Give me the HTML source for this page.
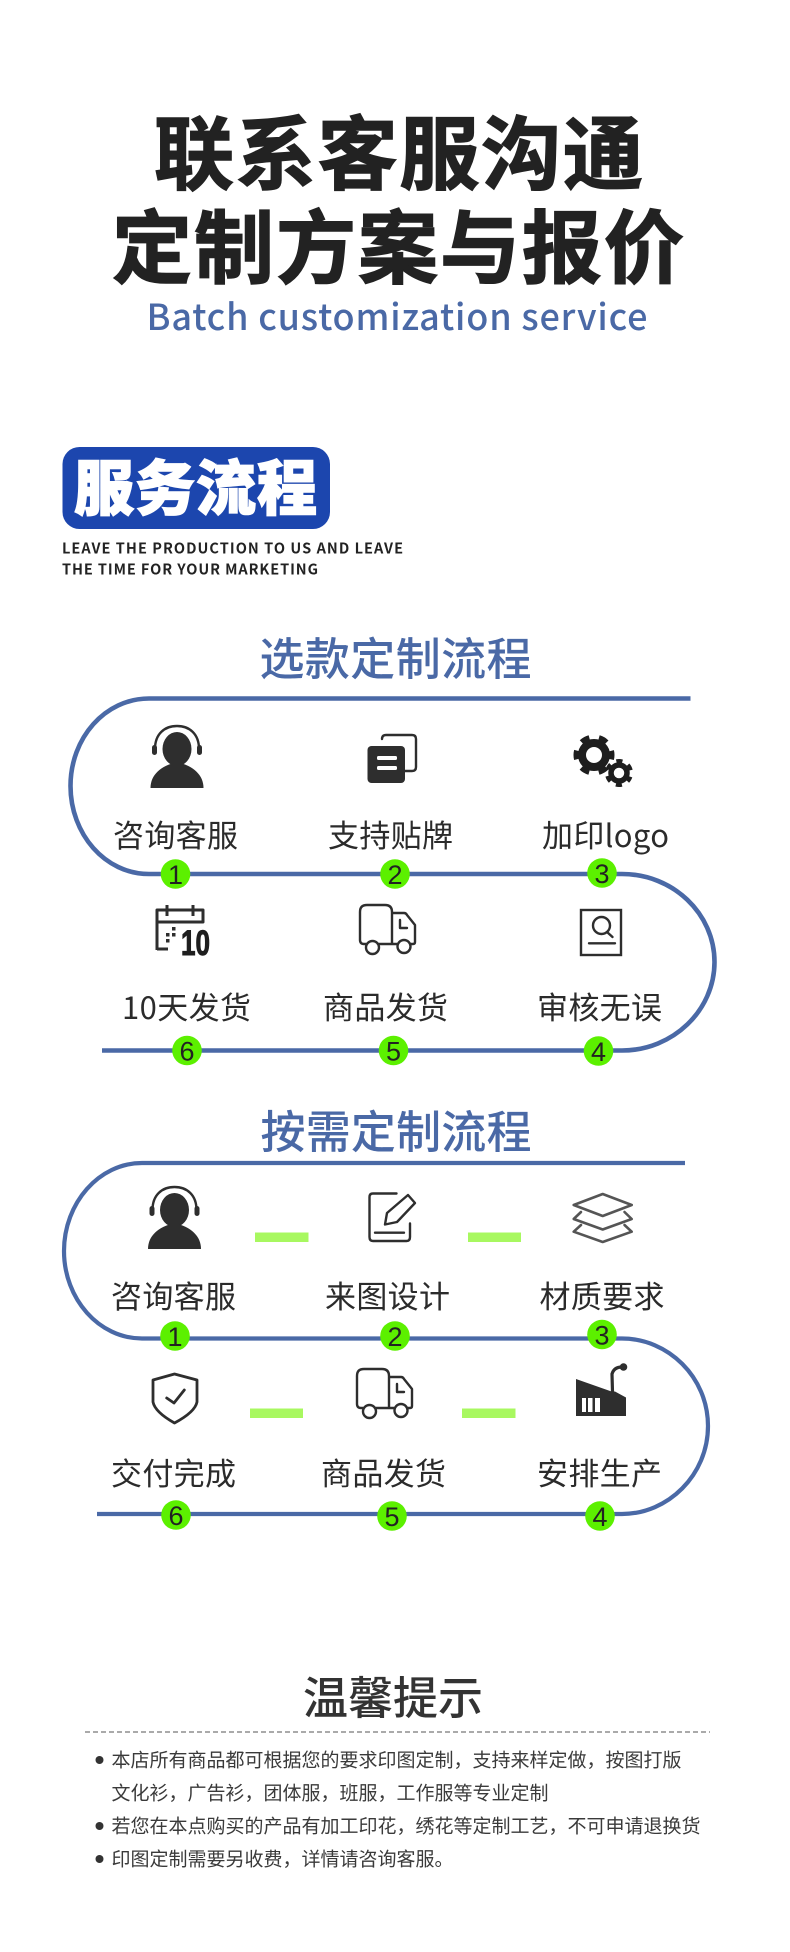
<!DOCTYPE html>
<html lang="zh"><head><meta charset="utf-8"><title>服务流程</title>
<style>
html,body{margin:0;padding:0;background:#fff;width:790px;height:1952px;overflow:hidden}
svg{display:block}
text{font-family:"Noto Sans CJK SC","Liberation Sans",sans-serif}
.t{font-weight:700;font-size:80px;fill:#222;stroke:#222;stroke-width:1.4}
.h{font-weight:500;font-size:45px;fill:#4a69a6}
.l{font-size:31px;fill:#2b2b2b;font-weight:400}
.n{font-family:"Liberation Sans",sans-serif;font-size:27px;fill:#222;text-anchor:middle}
.c{fill:#5cf000}
.p{fill:none;stroke:#4a69a6;stroke-linecap:butt}
.tip{font-size:19px;fill:#3a3a3a}
.k{fill:#2e2e2e}
.o{fill:none;stroke:#2e2e2e;stroke-width:2.4;stroke-linejoin:round;stroke-linecap:round}
.y{fill:none;stroke:#555;stroke-width:2.6;stroke-linejoin:round;stroke-linecap:round}
.b{fill:#a8f860}
</style></head><body>
<svg xmlns="http://www.w3.org/2000/svg" width="790" height="1952" viewBox="0 0 790 1952">
<defs>
<g id="person">
<path d="M4.5 24C4.5 9 14 1 26.5 1S48.5 9 48.5 24" fill="none" stroke="#2e2e2e" stroke-width="2.4"/>
<rect x="1.5" y="20" width="5" height="10" rx="2.5" class="k"/><rect x="46.5" y="20" width="5" height="10" rx="2.5" class="k"/>
<ellipse cx="26.500" cy="24" rx="14.500" ry="17" class="k"/>
<path d="M0 63C0 50 10 41 26.500 37C43 41 53 50 53 63Z" class="k"/>
</g>
<g id="truck">
<path class="o" d="M6 39H4Q0 39 0 35V7Q0 0 7 0H25Q32 0 32 7V39M19 39H37M32 8H44Q46 8 47 10L55 20V37Q55 39 53 39H50"/>
<path class="o" d="M40 15V23H47"/>
<circle class="o" cx="12.500" cy="42.500" r="6.500"/><circle class="o" cx="44" cy="41.500" r="6.500"/>
</g>
</defs>

<!-- header -->
<text class="t" x="154" y="183" textLength="489">联系客服沟通</text>
<text class="t" x="112" y="277" textLength="572">定制方案与报价</text>
<text x="146.500" y="330" font-size="36" font-weight="500" fill="#4a69a6" textLength="501">Batch customization service</text>

<rect x="62.500" y="447" width="267.500" height="82" rx="17" fill="#1c46ae"/>
<text x="74" y="510" font-size="60" font-weight="900" fill="#fff" stroke="#fff" stroke-width="1.400" textLength="243">服务流程</text>
<text x="62" y="553.500" font-size="14.500" font-weight="700" fill="#222" textLength="341">LEAVE THE PRODUCTION TO US AND LEAVE</text>
<text x="62" y="574.500" font-size="14.500" font-weight="700" fill="#222" textLength="256">THE TIME FOR YOUR MARKETING</text>

<!-- section 1 -->
<text class="h" x="259.500" y="675" textLength="272">选款定制流程</text>
<path class="p" stroke-width="4.600" d="M690.500 698.500H149C105 698.500 70.500 738 70.500 786S105 874 149 874H622C673 874 714.500 913.600 714.500 962S673 1050.500 622 1050.500H102"/>
<text class="l" x="113" y="847" textLength="125">咨询客服</text>
<text class="l" x="328" y="847" textLength="125">支持贴牌</text>
<text class="l" x="542" y="847" textLength="127">加印logo</text>
<text class="l" x="122" y="1019" textLength="129">10天发货</text>
<text class="l" x="323" y="1019" textLength="125">商品发货</text>
<text class="l" x="537" y="1019" textLength="125">审核无误</text>

<use href="#person" x="150.500" y="725"/>
<!-- doc copy -->
<path class="o" d="M382 739Q382 735 386 735H412Q416 735 416 739V767Q416 771 412 771H405"/>
<rect x="367.500" y="746" width="37.500" height="37" rx="4" class="k"/>
<rect x="377" y="756" width="20" height="4" rx="1.500" fill="#fff"/><rect x="377" y="766" width="20" height="4" rx="1.500" fill="#fff"/>
<!-- gears -->
<circle cx="594" cy="755" r="12" fill="none" stroke="#1e1e1e" stroke-width="8"/>
<circle cx="594" cy="755" r="18" fill="none" stroke="#1e1e1e" stroke-width="5" stroke-dasharray="9 9.850" stroke-dashoffset="4.500"/>
<circle cx="619" cy="773" r="8" fill="none" stroke="#1e1e1e" stroke-width="5.500"/>
<circle cx="619" cy="773" r="12" fill="none" stroke="#1e1e1e" stroke-width="4" stroke-dasharray="6 6.570" stroke-dashoffset="3" transform="rotate(30 619 773)"/>
<!-- calendar -->
<path class="o" style="stroke-width:3;stroke-linecap:butt" d="M157 950V910H203V922H157M167 905V916M193 905V916M157 949H168"/>
<path d="M172 927h3.500v3.500h-3.500zM166 933h3.500v3.500h-3.500zM172 933h3.500v3.500h-3.500zM166 939h3.500v3.500h-3.500z" class="k"/>
<text x="181" y="955" style="font-family:'Liberation Sans',sans-serif" font-weight="700" font-size="35" fill="#1e1e1e" stroke="#1e1e1e" stroke-width="1" textLength="29" lengthAdjust="spacingAndGlyphs">10</text>
<use href="#truck" x="360" y="905"/>
<!-- review -->
<rect class="o" x="581" y="910" width="40" height="45" style="stroke-linejoin:miter"/>
<circle class="o" cx="601.500" cy="925.500" r="8.500"/><path class="o" d="M607 932L612.500 937M589 943.300H615"/>

<g><circle class="c" cx="175.500" cy="874" r="14.800"/><circle class="c" cx="395" cy="874" r="14.800"/><circle class="c" cx="602" cy="873" r="14.800"/>
<circle class="c" cx="187" cy="1050.500" r="14.800"/><circle class="c" cx="393.500" cy="1050.500" r="14.800"/><circle class="c" cx="598.500" cy="1051" r="14.800"/></g>
<text class="n" x="175.500" y="884">1</text><text class="n" x="395" y="884">2</text><text class="n" x="602" y="883">3</text>
<text class="n" x="187" y="1060.500">6</text><text class="n" x="393.500" y="1060.500">5</text><text class="n" x="598.500" y="1061">4</text>

<!-- section 2 -->
<text class="h" x="260.500" y="1148" textLength="271">按需定制流程</text>
<path class="p" stroke-width="4.200" d="M685 1163H142C99 1163 64 1203 64 1251S99 1338.500 142 1338.500H622C668 1338.500 708 1377 708 1426S668 1514 622 1514H97"/>
<rect class="b" x="255" y="1232.500" width="53.500" height="9.500"/><rect class="b" x="468" y="1232.500" width="53" height="9.500"/>
<rect class="b" x="250" y="1408.500" width="53" height="9.500"/><rect class="b" x="462" y="1408.500" width="53.500" height="9.500"/>
<text class="l" x="111" y="1308" textLength="125">咨询客服</text>
<text class="l" x="325" y="1308" textLength="125">来图设计</text>
<text class="l" x="539.500" y="1308" textLength="125">材质要求</text>
<text class="l" x="111" y="1485" textLength="125">交付完成</text>
<text class="l" x="321" y="1485" textLength="125">商品发货</text>
<text class="l" x="537" y="1485" textLength="125">安排生产</text>

<use href="#person" x="148" y="1186"/>
<!-- edit -->
<path class="o" d="M396.500 1193.500H373Q369.500 1193.500 369.500 1197V1237Q369.500 1241 373 1241H406.500Q410 1241 410 1237V1223.500M375 1232.700H404"/>
<path class="o" d="M385 1224.500L387 1213L408 1195L415 1203L397 1222Z"/>
<!-- layers -->
<path class="y" d="M602.700 1194L631.700 1205L602.700 1216L573.700 1205Z"/>
<path class="y" d="M581 1212L573.700 1219L602.700 1229.500L631.700 1219L624.500 1212"/>
<path class="y" d="M581 1225L573.700 1231.700L602.700 1242L631.700 1231.700L624.500 1225"/>
<!-- shield -->
<path class="o" style="stroke-width:2.800" d="M174.500 1374L197 1380V1402Q195 1412 174.500 1423Q155 1412 153 1402V1380Z"/>
<path class="o" style="stroke-width:2.800" d="M166.700 1398L174 1403L184.300 1390"/>
<use href="#truck" x="357" y="1369"/>
<!-- factory -->
<path class="k" d="M576 1379L611.500 1391.500H615L626 1397.500V1416H576Z"/>
<path d="M582 1398h4v14h-4zM588 1398h4.500v14h-4.500zM595 1398h5v14h-5z" fill="#fff"/>
<path d="M612.500 1392L612 1374Q614 1367 622 1367" fill="none" stroke="#2e2e2e" stroke-width="3.200"/>
<circle cx="623.500" cy="1367" r="3.800" class="k"/>

<g><circle class="c" cx="175" cy="1336" r="14.800"/><circle class="c" cx="395" cy="1336" r="14.800"/><circle class="c" cx="602" cy="1334.500" r="14.800"/>
<circle class="c" cx="176" cy="1515" r="14.800"/><circle class="c" cx="392" cy="1516" r="14.800"/><circle class="c" cx="600" cy="1516" r="14.800"/></g>
<text class="n" x="175" y="1346">1</text><text class="n" x="395" y="1346">2</text><text class="n" x="602" y="1344.500">3</text>
<text class="n" x="176" y="1525">6</text><text class="n" x="392" y="1526">5</text><text class="n" x="600" y="1526">4</text>

<!-- tips -->
<text x="303" y="1714" font-size="45" font-weight="500" fill="#333" textLength="180">温馨提示</text>
<line x1="85" y1="1732" x2="710" y2="1732" stroke="#555" stroke-width="1" stroke-dasharray="5 3"/>
<circle cx="99.500" cy="1760" r="4" fill="#333"/><circle cx="99.500" cy="1826" r="4" fill="#333"/><circle cx="99.500" cy="1859" r="4" fill="#333"/>
<text class="tip" x="111.500" y="1766.500">本店所有商品都可根据您的要求印图定制，支持来样定做，按图打版</text>
<text class="tip" x="111.500" y="1799.500">文化衫，广告衫，团体服，班服，工作服等专业定制</text>
<text class="tip" x="111.500" y="1832.500">若您在本点购买的产品有加工印花，绣花等定制工艺，不可申请退换货</text>
<text class="tip" x="111.500" y="1865.500">印图定制需要另收费，详情请咨询客服。</text>
</svg>
</body></html>
